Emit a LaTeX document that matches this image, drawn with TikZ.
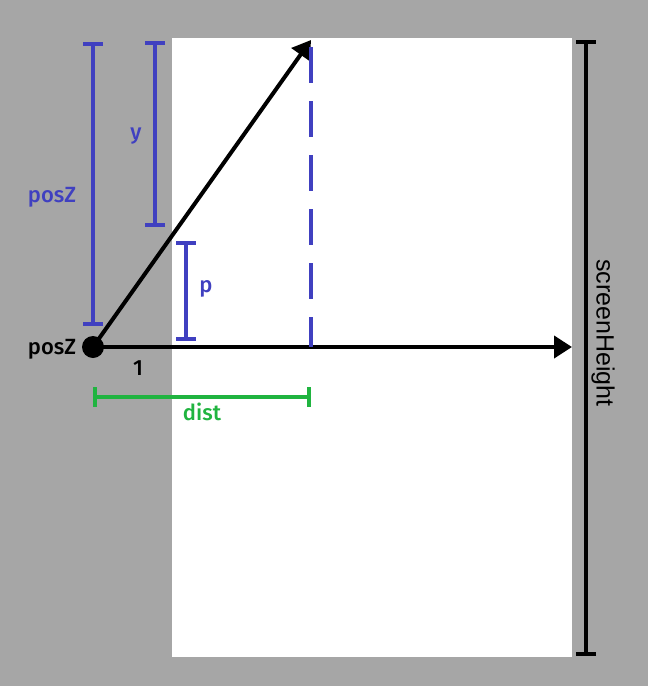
\documentclass[tikz,border=0pt]{standalone}
\usepackage{fontspec}
\setmainfont{Fira Sans}[UprightFont = * Medium]
\newfontfamily\arialfont{Liberation Sans}
\usepackage{xcolor}
\definecolor{cinza}{RGB}{166, 166, 166}
\definecolor{anil}{RGB}{64, 64, 192}
\definecolor{verde}{RGB}{32, 180, 64}
\usetikzlibrary{arrows.meta, positioning}

\begin{document}
\begin{tikzpicture}[x=1pt, y=-1pt, > = {Triangle[length=18pt, width=22pt]}, line width=4pt,
	rotulo/.style={font=\fontsize{22}{26}\selectfont, inner sep=0pt},
	cota/.style={line width=4pt, {Bar[width=20pt]}-{Bar[width=20pt]}}]
			\fill [cinza] (0,0) rectangle (648,686);
			\fill [white] (172,38) rectangle (572,657);
			
			\node [circle, fill, inner sep=0pt, minimum size=22pt] (olho) at (93,347) {};
			\coordinate (topo) at (311,40);
			\coordinate (tela) at (572,347);
			\coordinate (base) at (311,347);
			
			\draw [->] (olho.center) -- (tela);
			\draw [->] (olho.center) -- (topo);
			\draw [anil, line width=4.5pt, dash pattern=on 36pt off 18pt] (311,47) -- (base);
			
			\draw [cota] (586,40) -- (586,656);
			\node [rotate=-90, inner sep=0pt, font=\arialfont\fontsize{25}{30}\selectfont] (altura) at (603,333) {screenHeight};
			
			\draw [cota, anil] (93,42) -- (93,326);
			\draw [cota, anil] (155,41) -- (155,227);
			\draw [cota, anil] (186,241) -- (186,341);
			\draw [cota, verde] (93,397) -- (311,397);
			
			\node [rotulo, anil] (posZa) at (52,197) {posZ};
			\node [rotulo, anil] (ya) at (136,136) {y};
			\node [rotulo, anil] (pa) at (206,289) {p};
			\node [rotulo, verde] (distA) at (202,412) {dist};
			\node [rotulo] (posZb) at (52,349) {posZ};
			\node [rotulo] (um) at (138,368) {1};
		\end{tikzpicture}
\end{document}
